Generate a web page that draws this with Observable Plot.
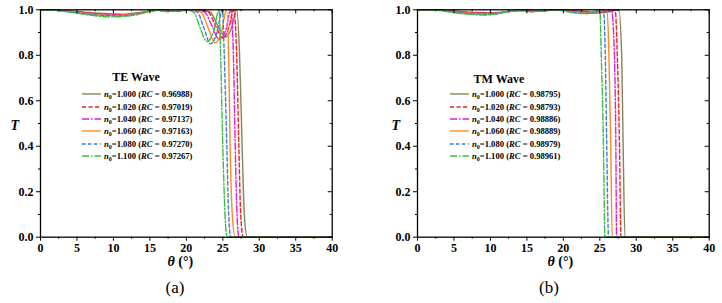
<!DOCTYPE html>
<html><head><meta charset="utf-8">
<script src="https://cdn.jsdelivr.net/npm/d3@7"></script>
<script src="https://cdn.jsdelivr.net/npm/@observablehq/plot@0.6"></script>
<style>
body{margin:0;background:#fff;font-family:Liberation Serif, serif;}
#wrap{position:relative;width:722px;height:303px;font-family:Liberation Serif, serif;color:#000;}
#wrap svg text{font-family:Liberation Serif, serif;}
.panel{position:absolute;top:0;width:361px;height:303px;}
.panel svg{position:absolute;left:0;top:0;}
.cap{position:absolute;top:278px;font-size:17px;transform:translateX(-50%);white-space:nowrap;}
.leg-title{position:absolute;font-weight:bold;font-size:12px;transform:translate(-50%,-50%);white-space:nowrap;}
.leg-row{position:absolute;display:flex;align-items:center;height:12px;font-size:8.6px;font-weight:bold;white-space:nowrap;transform:translateY(-50%);}
.leg-row svg{position:static;margin-right:3px;}
.sub{font-size:6px;position:relative;top:2px;}
</style>
</head><body>
<div id="wrap"></div>
<script>
// ---------- data ----------
const nLabels = ["1.000", "1.020", "1.040", "1.060", "1.080", "1.100"];
const rcTE = ["0.96988", "0.97019", "0.97137", "0.97163", "0.97270", "0.97267"];
const rcTM = ["0.98795", "0.98793", "0.98886", "0.98889", "0.98979", "0.98961"];
const thetaTicks = [0, 5, 10, 15, 20, 25, 30, 35, 40];
const thetaMinor = [2.5, 7.5, 12.5, 17.5, 22.5, 27.5, 32.5, 37.5];
const tTicks = [0, 0.2, 0.4, 0.6, 0.8, 1.0];
const tMinor = [0.1, 0.3, 0.5, 0.7, 0.9];
const seriesColors = ["#85855c", "#ff1a1a", "#e01ee0", "#ff8a1a", "#3a7af2", "#3cbf3c"];
const seriesDash = [null, "4,2.5", "7,2,1.5,2", null, "3.5,2.5", "7,2,1.5,2"];

// TE wave
const teTheta_100 = [0, 2, 4, 6, 8, 10, 11, 12, 14, 16, 17, 18, 19, 20, 21, 22, 23.3, 24.3, 25.4, 26.2, 26.9, 27.3, 27.65, 27.95, 28.35, 29, 40];
const teT_100     = [1, 0.999, 0.995, 0.99, 0.985, 0.982, 0.981, 0.982, 0.99, 0.998, 1.0, 0.997, 0.995, 0.998, 1.0, 0.999, 0.99, 0.93, 0.88, 0.92, 1.0, 0.8, 0.4, 0.1, 0, 0, 0];
const teTheta_102 = [0, 2, 4, 6, 8, 10, 10.8, 12, 14, 16, 16.7, 17.6, 18.6, 19.6, 20.6, 21.5, 23.0, 24.0, 25.0, 25.8, 26.5, 26.9, 27.2, 27.45, 27.8, 28.5, 40];
const teT_102     = [1, 0.999, 0.994, 0.988, 0.982, 0.979, 0.978, 0.98, 0.989, 0.998, 1.0, 0.996, 0.994, 0.998, 1.0, 0.999, 0.99, 0.93, 0.875, 0.92, 1.0, 0.8, 0.4, 0.1, 0, 0, 0];
const teTheta_104 = [0, 2, 4, 6, 8, 10, 10.6, 12, 14, 15.8, 16.4, 17.3, 18.3, 19.2, 20.2, 21.2, 22.5, 23.5, 24.5, 25.4, 26.1, 26.45, 26.7, 26.95, 27.2, 28, 40];
const teT_104     = [1, 0.999, 0.993, 0.986, 0.98, 0.977, 0.976, 0.979, 0.988, 0.998, 1.0, 0.996, 0.993, 0.997, 1.0, 0.999, 0.99, 0.93, 0.87, 0.91, 1.0, 0.8, 0.4, 0.1, 0, 0, 0];
const teTheta_106 = [0, 2, 4, 6, 8, 10, 10.4, 12, 14, 15.5, 16.1, 17, 17.9, 18.8, 19.8, 20.8, 22.0, 23.0, 23.9, 24.8, 25.5, 25.8, 26.0, 26.3, 26.7, 27.5, 40];
const teT_106     = [1, 0.998, 0.992, 0.984, 0.978, 0.975, 0.974, 0.977, 0.987, 0.997, 1.0, 0.996, 0.993, 0.997, 1.0, 0.999, 0.99, 0.92, 0.855, 0.9, 1.0, 0.8, 0.4, 0.1, 0, 0, 0];
const teTheta_108 = [0, 2, 4, 6, 8, 10, 10.2, 12, 14, 15.2, 15.8, 16.7, 17.6, 18.5, 19.4, 20.3, 21.5, 22.4, 23.3, 24.2, 24.95, 25.2, 25.55, 25.8, 26.1, 27, 40];
const teT_108     = [1, 0.998, 0.991, 0.982, 0.976, 0.973, 0.972, 0.975, 0.986, 0.997, 1.0, 0.995, 0.992, 0.997, 1.0, 0.999, 0.99, 0.92, 0.85, 0.9, 1.0, 0.8, 0.4, 0.1, 0, 0, 0];
const teTheta_110 = [0, 2, 4, 6, 8, 9.2, 10, 12, 14, 14.9, 15.5, 16.4, 17.3, 18.2, 19.0, 20.0, 21.0, 21.9, 22.8, 23.7, 24.5, 24.7, 25.0, 25.3, 25.6, 26.5, 40];
const teT_110     = [1, 0.998, 0.99, 0.98, 0.972, 0.969, 0.969, 0.973, 0.985, 0.997, 1.0, 0.995, 0.992, 0.997, 1.0, 0.999, 0.99, 0.92, 0.86, 0.9, 1.0, 0.8, 0.4, 0.1, 0, 0, 0];

// TM wave
const tmTheta_100 = [0, 3, 5, 7, 9, 10, 11, 13, 15, 16, 17, 18, 19.5, 21, 22.5, 24, 25.5, 26.8, 27.6, 28.0, 28.2, 28.45, 29, 40];
const tmT_100     = [1, 0.999, 0.995, 0.99, 0.988, 0.987, 0.988, 0.994, 0.999, 0.996, 0.994, 0.997, 1.0, 0.999, 0.995, 0.99, 0.988, 0.995, 1.0, 0.8, 0.4, 0, 0, 0];
const tmTheta_102 = [0, 3, 5, 7, 8.8, 9.8, 10.8, 12.7, 14.7, 15.7, 16.7, 17.6, 19.1, 20.6, 22.0, 23.5, 25.0, 26.3, 27.1, 27.4, 27.7, 27.9, 28.5, 40];
const tmT_102     = [1, 0.999, 0.994, 0.989, 0.986, 0.985, 0.986, 0.993, 0.999, 0.996, 0.993, 0.997, 1.0, 0.999, 0.994, 0.989, 0.987, 0.995, 1.0, 0.8, 0.4, 0, 0, 0];
const tmTheta_104 = [0, 3, 5, 6.7, 8.7, 9.6, 10.6, 12.5, 14.4, 15.4, 16.4, 17.3, 18.8, 20.2, 21.6, 23.1, 24.5, 25.8, 26.6, 27.0, 27.2, 27.3, 28, 40];
const tmT_104     = [1, 0.998, 0.993, 0.987, 0.984, 0.983, 0.984, 0.992, 0.999, 0.995, 0.993, 0.997, 1.0, 0.999, 0.994, 0.988, 0.986, 0.994, 1.0, 0.8, 0.4, 0, 0, 0];
const tmTheta_106 = [0, 3, 4.8, 6.6, 8.5, 9.4, 10.4, 12.3, 14.1, 15.1, 16.0, 17.0, 18.4, 19.8, 21.2, 22.6, 24.0, 25.3, 26.0, 26.25, 26.5, 26.7, 27.5, 40];
const tmT_106     = [1, 0.998, 0.992, 0.986, 0.982, 0.981, 0.982, 0.991, 0.998, 0.995, 0.992, 0.996, 1.0, 0.999, 0.993, 0.987, 0.985, 0.994, 1.0, 0.8, 0.4, 0, 0, 0];
const tmTheta_108 = [0, 3, 4.6, 6.5, 8.3, 9.3, 10.2, 12.0, 13.9, 14.8, 15.7, 16.7, 18.1, 19.4, 20.8, 22.2, 23.6, 24.8, 25.5, 25.75, 25.95, 26.2, 27, 40];
const tmT_108     = [1, 0.998, 0.991, 0.984, 0.98, 0.979, 0.98, 0.99, 0.998, 0.995, 0.992, 0.996, 1.0, 0.999, 0.993, 0.986, 0.984, 0.993, 1.0, 0.8, 0.4, 0, 0, 0];
const tmTheta_110 = [0, 3, 4.5, 6.4, 8.2, 9.1, 10.0, 11.8, 13.6, 14.5, 15.5, 16.4, 17.7, 19.1, 20.5, 21.8, 23.2, 24.3, 25.0, 25.2, 25.5, 25.7, 26.5, 40];
const tmT_110     = [1, 0.997, 0.99, 0.982, 0.978, 0.977, 0.978, 0.989, 0.998, 0.994, 0.991, 0.996, 1.0, 0.999, 0.992, 0.985, 0.983, 0.993, 1.0, 0.8, 0.4, 0, 0, 0];

// ---------- build ----------
const teSeries = [[teTheta_100, teT_100], [teTheta_102, teT_102], [teTheta_104, teT_104], [teTheta_106, teT_106], [teTheta_108, teT_108], [teTheta_110, teT_110]];
const tmSeries = [[tmTheta_100, tmT_100], [tmTheta_102, tmT_102], [tmTheta_104, tmT_104], [tmTheta_106, tmT_106], [tmTheta_108, tmT_108], [tmTheta_110, tmT_110]];

const FONT = "Liberation Serif, serif";
const W = 361, H = 275, MT = 9.3, MB = H - 236.7;

function makePanel({left, marginLeft, marginRight, series, title, rcs, caption, capX, xLabelDx, tLabelDx, legTitleX, legTitleY, legLineX}) {
  const innerW = W - marginLeft - marginRight;
  const innerH = H - MT - MB;
  const lines = series.map(([xs, ys], k) => Plot.line(xs.map((x, i) => ({theta: x, T: ys[i], n: nLabels[k]})), {
    x: "theta", y: "T", stroke: seriesColors[k], strokeWidth: 1.4,
    strokeDasharray: seriesDash[k] ?? undefined, curve: "monotone-x"
  }));
  const chart = Plot.plot({
    width: W, height: H, marginLeft, marginRight, marginTop: MT, marginBottom: MB,
    style: {fontFamily: FONT, fontWeight: "bold", fontSize: "12px", color: "#000", background: "transparent"},
    x: {domain: [0, 40]},
    y: {domain: [0, 1]},
    marks: [
      ...lines,
      Plot.frame({stroke: "#000", strokeWidth: 1.3}),
      Plot.axisX({ticks: thetaTicks, tickSize: 4, tickPadding: 2, label: null, tickFormat: d3.format("d"), fontSize: 12}),
      Plot.axisX({ticks: thetaMinor, tickSize: 2, tickFormat: () => "", label: null}),
      Plot.axisY({ticks: tTicks, tickSize: 4, tickPadding: 3, label: null, tickFormat: d3.format(".1f"), fontSize: 12}),
      Plot.axisY({ticks: tMinor, tickSize: 2, tickFormat: () => "", label: null}),
      Plot.tickX(thetaTicks, {x: d => d, insetBottom: innerH - 4, stroke: "#000"}),
      Plot.tickX(thetaMinor, {x: d => d, insetBottom: innerH - 2, stroke: "#000"}),
      Plot.tickY(tTicks, {y: d => d, insetLeft: innerW - 4, stroke: "#000"}),
      Plot.tickY(tMinor, {y: d => d, insetLeft: innerW - 2, stroke: "#000"}),
      Plot.text(["θ (°)"], {frameAnchor: "bottom", dy: 28.5, dx: xLabelDx, fontSize: 14, fontWeight: "bold"}),
      Plot.text(["T"], {frameAnchor: "left", dx: tLabelDx, dy: 2, fontSize: 14, fontWeight: "bold", fontStyle: "italic"})
    ]
  });
  chart.setAttribute("font-family", FONT);
  chart.querySelectorAll("text, g").forEach(t => {
    if (t.hasAttribute("font-family")) t.setAttribute("font-family", FONT);
  });
  chart.querySelectorAll("text").forEach(t => {
    t.style.fontFamily = FONT;
    if (t.textContent === "θ (°)") t.innerHTML = '<tspan font-style="italic">θ</tspan> (°)';
  });
  const p = document.createElement("div");
  p.className = "panel";
  p.style.left = left + "px";
  p.style.fontFamily = FONT;
  p.appendChild(chart);
  // legend
  const lt = document.createElement("div");
  lt.className = "leg-title";
  lt.style.left = legTitleX + "px";
  lt.style.top = legTitleY + "px";
  lt.style.fontFamily = FONT;
  lt.textContent = title;
  p.appendChild(lt);
  nLabels.forEach((n, k) => {
    const row = document.createElement("div");
    row.className = "leg-row";
    row.style.left = legLineX + "px";
    row.style.top = (94.3 + k * 12.3) + "px";
    row.style.fontFamily = FONT;
    const dash = seriesDash[k] ? `stroke-dasharray="${seriesDash[k]}"` : "";
    row.innerHTML = `<svg width="19" height="6"><line x1="0" y1="3" x2="19" y2="3" stroke="${seriesColors[k]}" stroke-width="1.4" ${dash}/></svg>` +
      `<span><i>n</i><span class="sub">0</span>=${n} (<i>RC</i> = ${rcs[k]})</span>`;
    p.appendChild(row);
  });
  const cap = document.createElement("div");
  cap.className = "cap";
  cap.style.left = capX + "px";
  cap.style.fontFamily = FONT;
  cap.textContent = caption;
  p.appendChild(cap);
  document.getElementById("wrap").appendChild(p);
}

makePanel({left: 0, marginLeft: 40, marginRight: 29.3, series: teSeries, title: "TE Wave", rcs: rcTE,
  caption: "(a)", capX: 175, xLabelDx: -6, tLabelDx: -30, legTitleX: 136, legTitleY: 77, legLineX: 82});
makePanel({left: 361, marginLeft: 56, marginRight: 13.3, series: tmSeries, title: "TM Wave", rcs: rcTM,
  caption: "(b)", capX: 188, xLabelDx: -3, tLabelDx: -26, legTitleX: 138, legTitleY: 79, legLineX: 89});
</script>
</body></html>
